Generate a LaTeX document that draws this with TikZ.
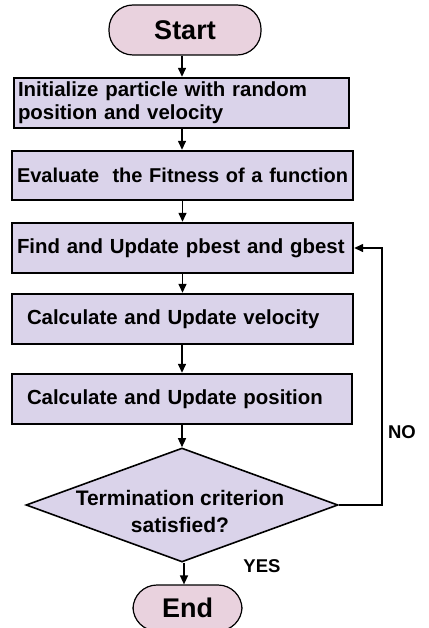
\documentclass[tikz,border=0pt]{standalone}
\usepackage{fontspec}
\setmainfont{Liberation Sans}
\usetikzlibrary{arrows.meta,shapes.geometric}
\definecolor{termfill}{HTML}{E9D2DE}
\definecolor{procfill}{HTML}{DAD3EA}
\begin{document}
\begin{tikzpicture}[x=1pt,y=-1pt,
  every node/.style={font=\bfseries\fontsize{20.4}{23}\selectfont},
  terminal/.style={draw, line width=1.2pt, fill=termfill, rounded corners=24pt,
    inner sep=0pt, font=\bfseries\fontsize{27}{30}\selectfont},
  procbox/.style={draw, line width=2.4pt, fill=procfill, minimum height=#1,
    inner ysep=0pt, align=left},
  decision/.style={draw, line width=1.6pt, fill=procfill, diamond, inner sep=0pt},
  flow/.style={line width=1.4pt, -{Triangle[length=9pt,width=8pt]}},
  loopline/.style={line width=1.4pt, -{Triangle[length=9pt,width=8pt]}},
  answer/.style={font=\bfseries\fontsize{18.5}{21}\selectfont}]
\useasboundingbox (0,0) rectangle (428,628);
\fill[white] (0,0) rectangle (428,628);

% terminals
\node[terminal, minimum width=152pt, minimum height=50pt] (start) at (185,30) {Start};
\node[terminal, minimum width=109pt, minimum height=46pt] (end) at (187.5,608) {End};

% process steps
\node[procbox=50pt, inner xsep=4pt, text width=327pt] (init) at (181.5,103)
  {Initialize particle with random\\position and velocity};
\node[procbox=49pt, inner xsep=5pt, text width=331pt,
  font=\bfseries\fontsize{20}{23}\selectfont] (eval) at (182.5,175.5)
  {\mbox{Evaluate\ \ the Fitness of a function}};
\node[procbox=50pt, inner xsep=5pt, text width=331pt] (best) at (182.5,248)
  {Find and Update pbest and gbest};
\node[procbox=50pt, inner xsep=15pt, text width=311pt] (vel) at (182.5,319)
  {Calculate and Update velocity};
\node[procbox=50pt, inner xsep=15pt, text width=310pt] (pos) at (182,399)
  {Calculate and Update position};

% decision
\node[decision, minimum width=312pt, minimum height=114pt] (term) at (182,505) {};
\node[align=center, font=\bfseries\fontsize{21}{27}\selectfont] (termtext) at (180,511)
  {Termination criterion\\satisfied?};

% answers
\node[answer] (no) at (402,432) {NO};
\node[answer] (yes) at (262,566) {YES};

% connectors
\draw[flow] (start.south -| 182,0) -- (init.north -| 182,0);
\draw[flow] (init.south -| 182,0) -- (eval.north -| 182,0);
\draw[flow] (eval) -- (best);
\draw[flow] (best) -- (vel);
\draw[flow] (vel.south -| 182,0) -- (pos.north -| 182,0);
\draw[flow] (pos.south -| 182,0) -- (term.north);
\draw[flow] (term.south -| 184,0) -- (end.north -| 184,0);
\coordinate (loop) at (382,505);
\draw[loopline] (term.east) -- (loop) |- (best.east);
\end{tikzpicture}
\end{document}
